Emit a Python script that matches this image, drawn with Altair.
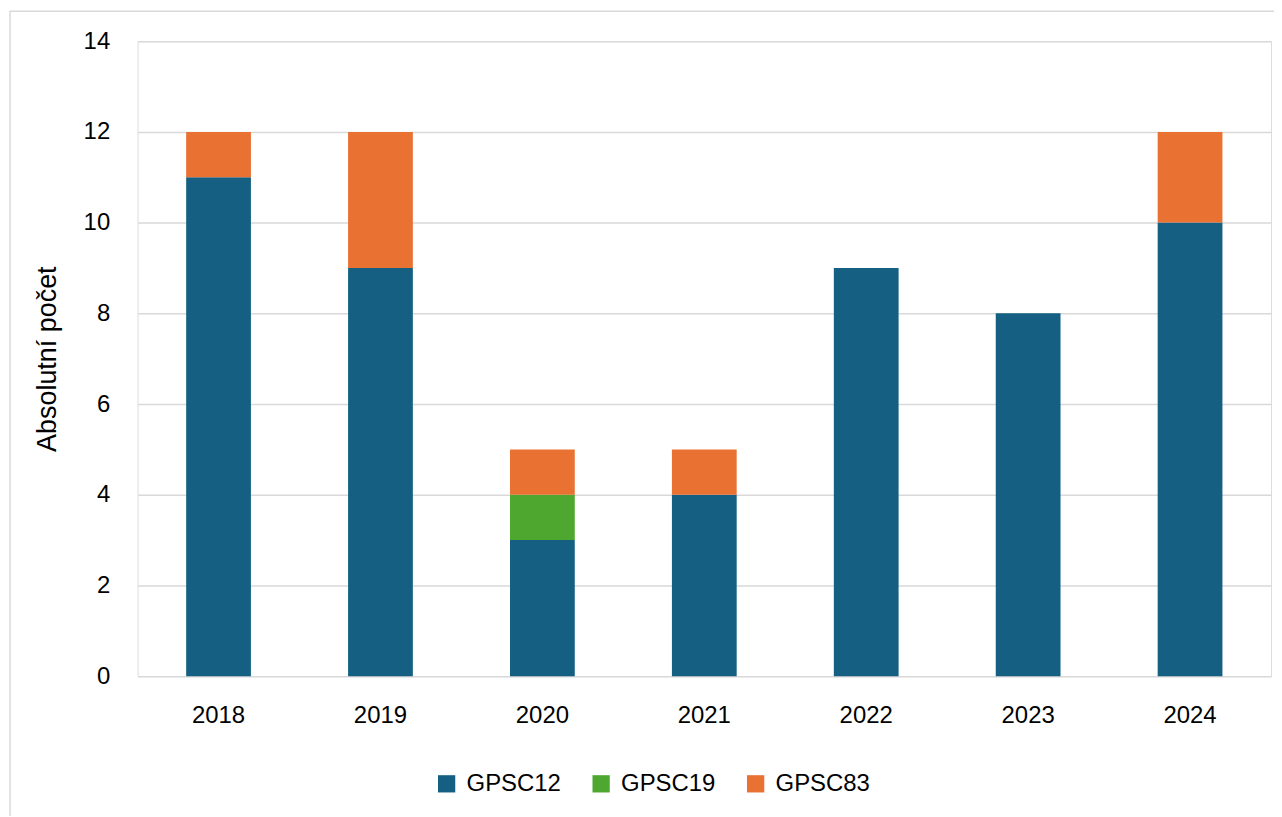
import altair as alt
import pandas as pd

years = ["2018", "2019", "2020", "2021", "2022", "2023", "2024"]
gpsc12 = [11, 9, 3, 4, 9, 8, 10]
gpsc19 = [0, 0, 1, 0, 0, 0, 0]
gpsc83 = [1, 3, 1, 1, 0, 0, 2]
series_names = ["GPSC12", "GPSC19", "GPSC83"]
series_colors = ["#156082", "#4EA72E", "#E97132"]

rows = []
for i, y in enumerate(years):
    for k, (name, vals) in enumerate(zip(series_names, [gpsc12, gpsc19, gpsc83])):
        rows.append({"rok": y, "serie": name, "pocet": vals[i], "poradi": k})
df = pd.DataFrame(rows)

FONT = "Liberation Sans"

bars = alt.Chart(df).mark_bar(stroke=None).encode(
    x=alt.X("rok:N", sort=years,
            scale=alt.Scale(paddingInner=0.6, paddingOuter=0.3),
            axis=alt.Axis(title=None, labelAngle=0, ticks=False, domain=False,
                          grid=False, labelPadding=27, labelFontSize=24,
                          labelColor="#000000", labelFont=FONT)),
    y=alt.Y("pocet:Q", stack="zero",
            scale=alt.Scale(domain=[0, 14], nice=False),
            axis=alt.Axis(title="Absolutní počet", values=[0, 2, 4, 6, 8, 10, 12, 14],
                          ticks=False, domain=False, grid=True, gridColor="#D9D9D9",
                          gridWidth=1.5, labelPadding=28, labelFontSize=24,
                          labelColor="#000000", labelFont=FONT,
                          titleFont=FONT, titleFontSize=27, titleFontWeight="normal",
                          titleColor="#000000", titlePadding=22)),
    color=alt.Color("serie:N", sort=series_names,
                    scale=alt.Scale(domain=series_names, range=series_colors),
                    legend=alt.Legend(title=None, orient="none", direction="horizontal",
                                      legendX=298, legendY=733,
                                      symbolType="square", symbolSize=300,
                                      symbolStrokeWidth=0,
                                      labelFont=FONT, labelFontSize=24,
                                      labelColor="#000000", columnPadding=28,
                                      labelOffset=8)),
    order=alt.Order("poradi:Q", sort="ascending"),
)

border = alt.Chart(pd.DataFrame({"a": [0]})).mark_rect(
    fill=None, stroke="#D9D9D9", strokeWidth=1.5
).encode(
    x=alt.value(-128), x2=alt.value(1160),
    y=alt.value(-30), y2=alt.value(830),
)

chart = alt.layer(border, bars).properties(
    width=1137, height=637,
    padding={"left": 130, "top": 32, "right": 3, "bottom": 139},
    autosize=alt.AutoSizeParams(type="none"),
).configure_view(stroke=None).configure(background="#FFFFFF")

chart.save("out.html", embed_options={"renderer": "svg", "actions": False})
